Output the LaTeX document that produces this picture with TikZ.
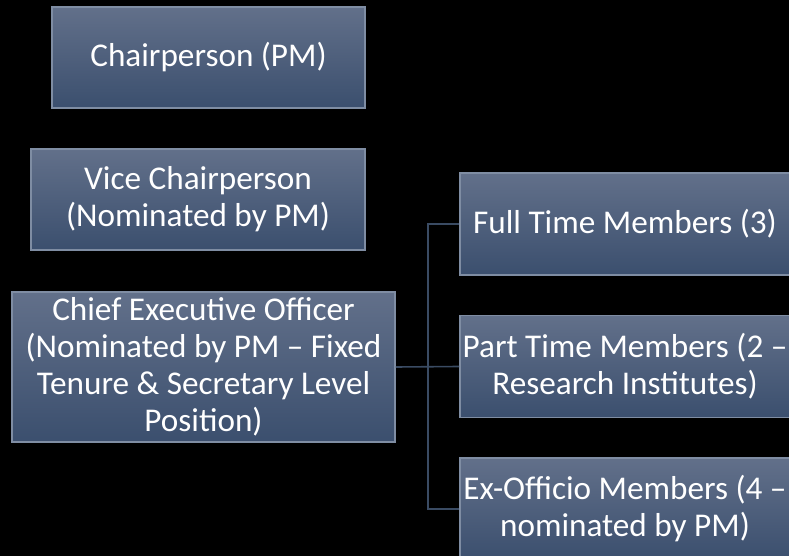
\documentclass[tikz,border=0pt]{standalone}
\usepackage{fontspec}
\setmainfont{Carlito}
\definecolor{boxtop}{HTML}{62708A}
\definecolor{boxbot}{HTML}{3B4F6E}
\definecolor{boxedge}{HTML}{7F8DA3}
\definecolor{linkc}{HTML}{3A4B63}
\begin{document}
\begin{tikzpicture}[x=0.5pt,y=-0.5pt,
  orgbox/.style={rectangle, top color=boxtop, bottom color=boxbot, draw=boxedge, line width=0.8pt,
    text=white, align=center, inner sep=0pt,
    font=\fontsize{16.6}{18.5}\selectfont},
  link/.style={draw=linkc, line width=0.8pt}]
\fill[black] (0,0) rectangle (789,556);
\useasboundingbox (0,0) rectangle (789,556);
\begin{scope}
\clip (0,0) rectangle (789,556);
\node[orgbox, minimum width=156.5pt, minimum height=50.5pt] (chair) at (208.5,57.5) {Chairperson (PM)};
\node[orgbox, minimum width=167pt, minimum height=50.5pt] (vice) at (198,199.5) {Vice Chairperson\\(Nominated by PM)};
\node[orgbox, minimum width=191.5pt, minimum height=75pt] (ceo) at (203.5,367) {Chief Executive Officer\\(Nominated by PM -- Fixed\\Tenure \& Secretary Level\\Position)};
\node[orgbox, minimum width=165pt, minimum height=51pt] (full) at (625,224) {Full Time Members (3)};
\node[orgbox, minimum width=165pt, minimum height=51pt] (part) at (625,366.5) {Part Time Members (2 --\\Research Institutes)};
\node[orgbox, minimum width=165pt, minimum height=51pt] (ex) at (625,509) {Ex-Officio Members (4 --\\nominated by PM)};
\coordinate (j) at (428,367);
\draw[link] (ceo.east) -- (part.west);
\draw[link] (full.west) -| (j) |- (ex.west);
\end{scope}
\end{tikzpicture}
\end{document}
